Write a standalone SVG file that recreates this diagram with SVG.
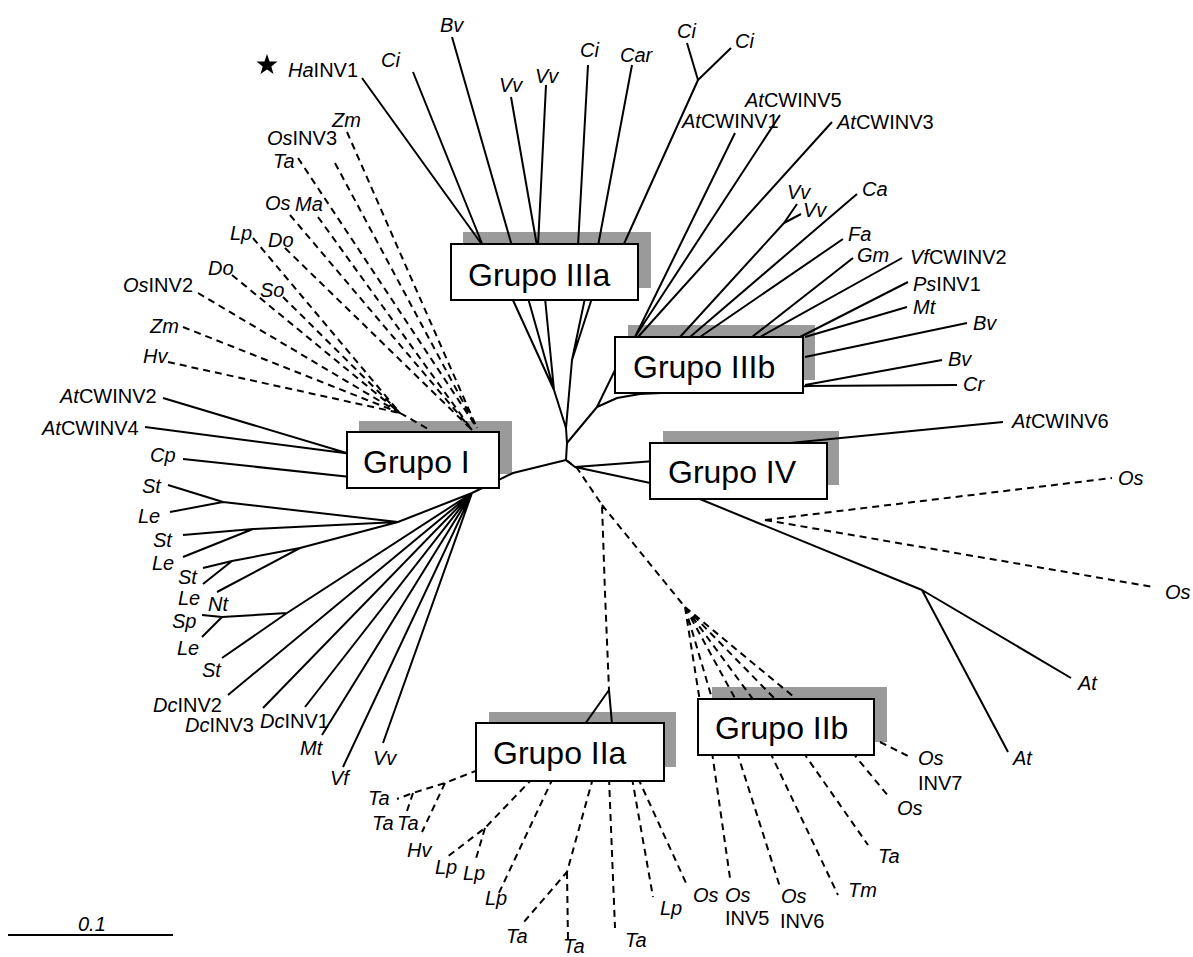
<svg xmlns="http://www.w3.org/2000/svg" width="1193" height="957" viewBox="0 0 1193 957">
<style>
.s{stroke:#000;stroke-width:2;fill:none;stroke-linejoin:round}
.d{stroke:#000;stroke-width:2;fill:none;stroke-dasharray:7 5}
.box{fill:#fff;stroke:#000;stroke-width:2}
.sh{fill:#9a9a9a}
.lb{font-family:"Liberation Sans",Arial,sans-serif;font-size:20px;fill:#000}
.it{font-style:italic}
.gl{font-family:"Liberation Sans",Arial,sans-serif;font-size:32px;fill:#000}
</style>
<rect width="1193" height="957" fill="#fff"/>
<g id="shadows">
<rect class="sh" x="463" y="232" width="188" height="56"/>
<rect class="sh" x="628" y="325" width="187" height="55"/>
<rect class="sh" x="359" y="421" width="153" height="53"/>
<rect class="sh" x="663" y="431" width="176" height="54"/>
<rect class="sh" x="489" y="712" width="187" height="55"/>
<rect class="sh" x="712" y="687" width="175" height="55"/>
</g>
<g id="connectors">
<path class="s" d="M362,78 L483,246 M413,72 L483,246 M452,37 L512,246 M511,97 L537,246 M546,85 L538,246 M588,65 L578,246 M632,65 L598,246 M687,43 L698,80 L731,48 M698,80 L623,246"/>
<path class="s" d="M512,298 L554,390 L566,428 M528,298 L554,390 M545,298 L554,390 M585,298 L572,360 L566,428 M592,298 L572,360 M566,428 L567,443 L566,460"/>
<path class="s" d="M567,443 L597,407 L617,366 M597,407 L617,398 L640,394 L810,386"/>
<path class="s" d="M735,133 L635,337 M780,115 L635,337 M832,122 L638,337 M797,204 L784,223 L680,337 M801,214 L784,223 M857,194 L690,337 M843,239 L700,337 M853,258 L752,337 M902,258 L760,337 M908,282 L800,337 M907,307 L805,337 M967,323 L805,357 M942,360 L805,385 M957,385 L805,386"/>
<path class="s" d="M566,460 L575,467 L655,461 M575,467 L655,484 M1003,422 L780,444 M690,495 L922,590 L1008,752 M922,590 L1071,678"/>
<path class="d" d="M765,520 L1112,478 M765,520 L1153,587"/>
<path class="s" d="M163,398 L360,457 M145,427 L360,455 M183,459 L360,478 M566,460 L513,473 L472,493"/>
<path class="s" d="M472,493 L398,522 L223,502 M168,485 L223,502 L170,512 M398,522 L253,529 M183,535 L253,529 L183,557 M398,522 L300,548 L232,561 M203,568 L232,561 L203,584 M300,548 L217,592 M472,493 L287,613 L222,617 L202,615 M222,617 L202,637 M287,613 L222,658 M472,493 L228,695 M472,493 L263,708 M472,493 L305,707 M472,493 L322,735 M472,493 L343,767 M472,493 L383,743"/>
<path class="d" d="M347,132 L477,428 M335,163 L477,428 M298,158 L477,428 M318,217 L472,430 M290,215 L472,430 M285,248 L472,430 M253,238 L400,413 M283,297 L400,413 M232,275 L400,413 M198,293 L400,413 M183,327 L400,413 M168,362 L400,413 M400,413 L430,430"/>
<path class="d" d="M566,460 L577,468 L602,505 L605,593 L609,690 M602,505 L685,607"/>
<path class="s" d="M609,690 L585,724 M609,690 L612,724"/>
<path class="d" d="M685,607 L700,702 M685,607 L713,702 M685,607 L737,702 M685,607 L755,702 M685,607 L778,702 M685,607 L800,702"/>
<path class="d" d="M880,742 L910,757 M852,752 L889,797 M803,752 L868,845 M770,752 L838,895 M737,752 L780,887 M712,752 L730,878"/>
<path class="d" d="M478,770 L445,783 L413,793 L397,799 M413,793 L407,811 M445,783 L422,832 M533,778 L485,828 L447,857 M485,828 L475,862 M553,778 L498,895 M593,778 L567,872 L523,923 M567,872 L568,940 M609,778 L615,928 M632,778 L653,897 M638,778 L686,883"/>
<path class="s" d="M8,935 L173,935"/>
</g>
<g id="grupo-IIIa"><rect class="box" x="451" y="244" width="187" height="56"/><text class="gl" x="468" y="286">Grupo IIIa</text></g>
<g id="grupo-IIIb"><rect class="box" x="615" y="337" width="188" height="56"/><text class="gl" x="633" y="378">Grupo IIIb</text></g>
<g id="grupo-I"><rect class="box" x="347" y="432" width="152" height="56"/><text class="gl" x="363" y="473">Grupo I</text></g>
<g id="grupo-IV"><rect class="box" x="650" y="443" width="177" height="56"/><text class="gl" x="668" y="483">Grupo IV</text></g>
<g id="grupo-IIa"><rect class="box" x="476" y="723" width="188" height="58"/><text class="gl" x="493" y="764">Grupo IIa</text></g>
<g id="grupo-IIb"><rect class="box" x="698" y="699" width="176" height="56"/><text class="gl" x="715" y="739">Grupo IIb</text></g>
<g id="star"><polygon fill="#000" points="267,54 269.6,61.4 277.5,61.6 271.3,66.4 273.5,73.9 267,69.5 260.5,73.9 262.7,66.4 256.5,61.6 264.4,61.4"/></g>
<g id="labels" class="lb">
<text x="288" y="77"><tspan class="it">Ha</tspan>INV1</text>
<text class="it" x="381" y="67">Ci</text>
<text class="it" x="440" y="32">Bv</text>
<text class="it" x="499" y="92">Vv</text>
<text class="it" x="535" y="83">Vv</text>
<text class="it" x="580" y="57">Ci</text>
<text class="it" x="620" y="62">Car</text>
<text class="it" x="677" y="38">Ci</text>
<text class="it" x="735" y="48">Ci</text>
<text x="745" y="107"><tspan class="it">At</tspan>CWINV5</text>
<text x="682" y="128"><tspan class="it">At</tspan>CWINV1</text>
<text x="837" y="129"><tspan class="it">At</tspan>CWINV3</text>
<text class="it" x="787" y="199">Vv</text>
<text class="it" x="803" y="217">Vv</text>
<text class="it" x="862" y="196">Ca</text>
<text class="it" x="848" y="241">Fa</text>
<text class="it" x="857" y="262">Gm</text>
<text x="910" y="264"><tspan class="it">Vf</tspan>CWINV2</text>
<text x="913" y="291"><tspan class="it">Ps</tspan>INV1</text>
<text class="it" x="913" y="314">Mt</text>
<text class="it" x="973" y="330">Bv</text>
<text class="it" x="948" y="366">Bv</text>
<text class="it" x="963" y="391">Cr</text>
<text x="1012" y="428"><tspan class="it">At</tspan>CWINV6</text>
<text class="it" x="1118" y="485">Os</text>
<text class="it" x="1165" y="599">Os</text>
<text class="it" x="1078" y="690">At</text>
<text class="it" x="1013" y="765">At</text>
<text class="it" x="918" y="765">Os</text>
<text x="918" y="790">INV7</text>
<text class="it" x="897" y="815">Os</text>
<text class="it" x="878" y="863">Ta</text>
<text class="it" x="848" y="897">Tm</text>
<text class="it" x="781" y="903">Os</text>
<text x="780" y="928">INV6</text>
<text class="it" x="725" y="902">Os</text>
<text x="725" y="925">INV5</text>
<text class="it" x="693" y="902">Os</text>
<text class="it" x="660" y="915">Lp</text>
<text class="it" x="625" y="947">Ta</text>
<text class="it" x="563" y="953">Ta</text>
<text class="it" x="506" y="943">Ta</text>
<text class="it" x="485" y="905">Lp</text>
<text class="it" x="463" y="880">Lp</text>
<text class="it" x="435" y="874">Lp</text>
<text class="it" x="407" y="857">Hv</text>
<text class="it" x="368" y="805">Ta</text>
<text class="it" x="372" y="830">Ta</text>
<text class="it" x="397" y="830">Ta</text>
<text class="it" x="373" y="765">Vv</text>
<text class="it" x="330" y="785">Vf</text>
<text class="it" x="300" y="755">Mt</text>
<text x="260" y="728"><tspan class="it">Dc</tspan>INV1</text>
<text x="185" y="732"><tspan class="it">Dc</tspan>INV3</text>
<text x="153" y="712"><tspan class="it">Dc</tspan>INV2</text>
<text class="it" x="202" y="677">St</text>
<text class="it" x="177" y="655">Le</text>
<text class="it" x="172" y="628">Sp</text>
<text class="it" x="208" y="611">Nt</text>
<text class="it" x="178" y="605">Le</text>
<text class="it" x="178" y="584">St</text>
<text class="it" x="152" y="570">Le</text>
<text class="it" x="153" y="547">St</text>
<text class="it" x="138" y="523">Le</text>
<text class="it" x="142" y="493">St</text>
<text class="it" x="150" y="462">Cp</text>
<text x="42" y="435"><tspan class="it">At</tspan>CWINV4</text>
<text x="60" y="403"><tspan class="it">At</tspan>CWINV2</text>
<text class="it" x="143" y="363">Hv</text>
<text class="it" x="150" y="333">Zm</text>
<text x="123" y="292"><tspan class="it">Os</tspan>INV2</text>
<text class="it" x="208" y="275">Do</text>
<text class="it" x="260" y="297">So</text>
<text class="it" x="230" y="240">Lp</text>
<text class="it" x="268" y="247">Do</text>
<text class="it" x="265" y="210">Os</text>
<text class="it" x="295" y="211">Ma</text>
<text class="it" x="273" y="168">Ta</text>
<text x="267" y="145"><tspan class="it">Os</tspan>INV3</text>
<text class="it" x="332" y="127">Zm</text>
<text class="it" x="78" y="931">0.1</text>
</g>
</svg>
